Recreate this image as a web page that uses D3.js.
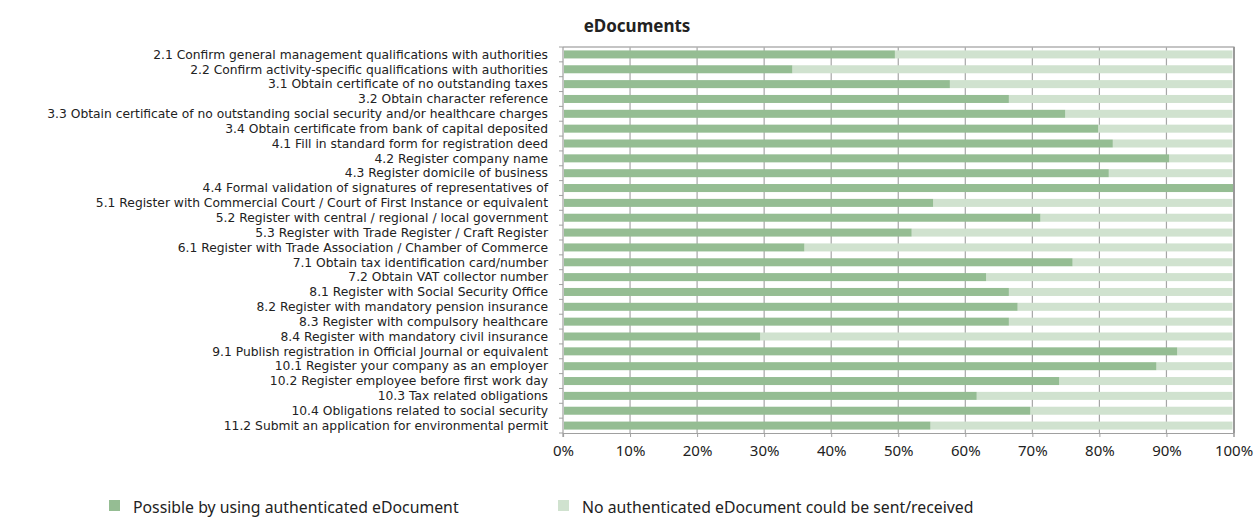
<!DOCTYPE html>
<html>
<head>
<meta charset="utf-8">
<script src="https://cdn.jsdelivr.net/npm/d3@7"></script>
<style>
  html, body { margin: 0; padding: 0; background: #fff; }
  svg { display: block; font-family: "Noto Sans", "Open Sans", sans-serif; }
</style>
</head>
<body>
<svg id="chart" width="1258" height="517"></svg>
<script>
const categories = [
  "2.1 Confirm general management qualifications with authorities",
  "2.2 Confirm activity-specific qualifications with authorities",
  "3.1 Obtain certificate of no outstanding taxes",
  "3.2 Obtain character reference",
  "3.3 Obtain certificate of no outstanding social security and/or healthcare charges",
  "3.4 Obtain certificate from bank of capital deposited",
  "4.1 Fill in standard form for registration deed",
  "4.2 Register company name",
  "4.3 Register domicile of business",
  "4.4 Formal validation of signatures of representatives of",
  "5.1 Register with Commercial Court / Court of First Instance or equivalent",
  "5.2 Register with central / regional / local government",
  "5.3 Register with Trade Register / Craft Register",
  "6.1 Register with Trade Association / Chamber of Commerce",
  "7.1 Obtain tax identification card/number",
  "7.2 Obtain VAT collector number",
  "8.1 Register with Social Security Office",
  "8.2 Register with mandatory pension insurance",
  "8.3 Register with compulsory healthcare",
  "8.4 Register with mandatory civil insurance",
  "9.1 Publish registration in Official Journal or equivalent",
  "10.1 Register your company as an employer",
  "10.2 Register employee before first work day",
  "10.3 Tax related obligations",
  "10.4 Obligations related to social security",
  "11.2 Submit an application for environmental permit"
];
const possible = [49.5, 34.2, 57.7, 66.5, 74.9, 79.8, 82.0, 90.4, 81.4, 100, 55.2, 71.2, 52.0, 36.0, 76.0, 63.1, 66.5, 67.8, 66.5, 29.4, 91.6, 88.5, 74.0, 61.7, 69.7, 54.8];
const notPossible = possible.map(v => 100 - v);
const seriesNames = ["Possible by using authenticated eDocument", "No authenticated eDocument could be sent/received"];
const seriesColors = ["#95bd93", "#d0e2cf"];
const xTicks = [0, 10, 20, 30, 40, 50, 60, 70, 80, 90, 100];
const title = "eDocuments";

const svg = d3.select("#chart");
const pLeft = 563, pRight = 1233.5, pTop = 47, pBottom = 433;

const x = d3.scaleLinear().domain([0, 100]).range([pLeft, pRight]);
const y = d3.scaleBand().domain(categories).range([pTop, pBottom]).paddingInner(0.46).paddingOuter(0.23);

// gridlines
svg.append("g").selectAll("line").data(xTicks.slice(1, -1)).join("line")
  .attr("x1", d => x(d)).attr("x2", d => x(d))
  .attr("y1", pTop).attr("y2", pBottom)
  .attr("stroke", "#a6a6a6").attr("stroke-width", 1.2);

// stacked bars
const rows = categories.map((c, i) => ({ c, a: possible[i], b: notPossible[i] }));
const g = svg.append("g");
g.selectAll("rect.b").data(rows).join("rect").attr("class", "b")
  .attr("x", d => x(d.a)).attr("width", d => Math.max(0, x(d.a + d.b) - x(d.a) - 1))
  .attr("y", d => y(d.c)).attr("height", y.bandwidth())
  .attr("fill", seriesColors[1]);
g.selectAll("rect.a").data(rows).join("rect").attr("class", "a")
  .attr("x", x(0) + 1).attr("width", d => x(d.a) - x(0) - (d.a >= 100 ? 0 : 1))
  .attr("y", d => y(d.c)).attr("height", y.bandwidth())
  .attr("fill", seriesColors[0]);

// frame: top and right
svg.append("line").attr("x1", pLeft).attr("x2", pRight + 1).attr("y1", pTop).attr("y2", pTop)
  .attr("stroke", "#b0b0b0").attr("stroke-width", 1.5);
svg.append("line").attr("x1", pRight + 0.5).attr("x2", pRight + 0.5).attr("y1", pTop).attr("y2", pBottom)
  .attr("stroke", "#9a9a9a").attr("stroke-width", 2);

// y axis
const yAxis = svg.append("g").attr("transform", `translate(${pLeft},0)`);
yAxis.append("line").attr("x1", 0).attr("x2", 0).attr("y1", pTop).attr("y2", pBottom + 4)
  .attr("stroke", "#a0a0a0").attr("stroke-width", 1.2);
const step = (pBottom - pTop) / categories.length;
yAxis.selectAll("line.t").data(d3.range(categories.length + 1)).join("line").attr("class", "t")
  .attr("x1", -4).attr("x2", 0)
  .attr("y1", i => pTop + i * step).attr("y2", i => pTop + i * step)
  .attr("stroke", "#a0a0a0").attr("stroke-width", 1);
yAxis.selectAll("text").data(categories).join("text")
  .attr("x", -15).attr("y", d => y(d) + y.bandwidth() / 2)
  .attr("dy", "0.35em").attr("text-anchor", "end")
  .attr("font-family", "'DejaVu Sans', sans-serif")
  .attr("font-size", "12.3px").attr("fill", "#222").text(d => d);

// x axis
const xAxis = svg.append("g").attr("transform", `translate(0,${pBottom})`)
  .call(d3.axisBottom(x).tickValues(xTicks).tickFormat(d => d + "%").tickSize(4).tickPadding(8));
xAxis.select(".domain").attr("stroke", "#a0a0a0").attr("stroke-width", 1.2);
xAxis.selectAll(".tick line").attr("stroke", "#a0a0a0");
xAxis.selectAll("text").attr("font-size", "15px").attr("fill", "#222")
  .attr("font-family", "'Noto Sans', sans-serif");

// title
svg.append("text").attr("x", 637).attr("y", 32).attr("text-anchor", "middle")
  .attr("font-size", "17px").attr("font-weight", "bold").attr("fill", "#222").text(title);

// legend
const legendX = [109, 558];
const lg = svg.append("g");
lg.selectAll("rect").data(seriesNames).join("rect")
  .attr("x", (d, i) => legendX[i]).attr("y", 500).attr("width", 11).attr("height", 11)
  .attr("fill", (d, i) => seriesColors[i]);
lg.selectAll("text").data(seriesNames).join("text")
  .attr("x", (d, i) => legendX[i] + 24).attr("y", 507).attr("dy", "0.35em")
  .attr("font-size", "15.8px").attr("fill", "#222").text(d => d);
</script>
</body>
</html>
